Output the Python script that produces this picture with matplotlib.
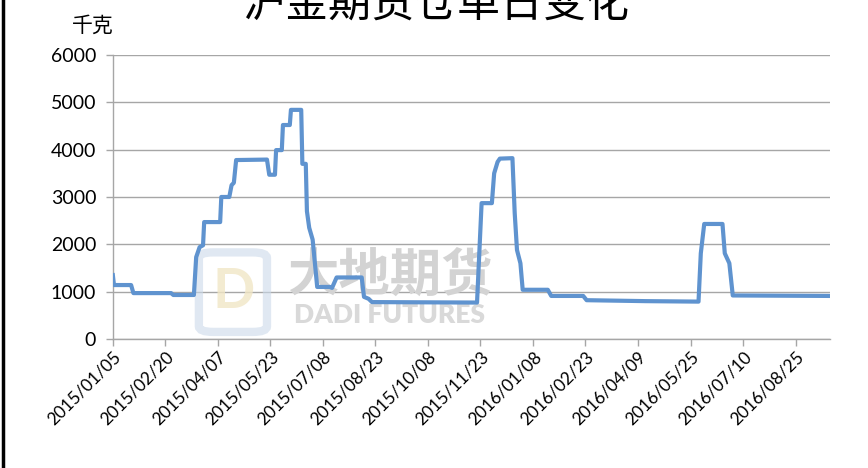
import pandas as pd
import matplotlib.pyplot as plt
import matplotlib.dates as mdates
from matplotlib.patches import FancyBboxPatch

plt.rcParams['font.family'] = ['Lato', 'Noto Sans CJK SC', 'DejaVu Sans']

# warehouse receipt breakpoints (kg)
dates = [
    '2015-01-05', '2015-01-06', '2015-01-21', '2015-01-23', '2015-02-25', '2015-02-27',
    '2015-03-17', '2015-03-19', '2015-03-22', '2015-03-25', '2015-03-26', '2015-04-09',
    '2015-04-10', '2015-04-17', '2015-04-19', '2015-04-21', '2015-04-23', '2015-05-20',
    '2015-05-22', '2015-05-27', '2015-05-28', '2015-06-02', '2015-06-03', '2015-06-09',
    '2015-06-10', '2015-06-19', '2015-06-20', '2015-06-23', '2015-06-24', '2015-06-26',
    '2015-06-29', '2015-07-03', '2015-07-14', '2015-07-16', '2015-07-20', '2015-08-11',
    '2015-08-13', '2015-08-17', '2015-08-20', '2015-11-20', '2015-11-22', '2015-11-24',
    '2015-12-03', '2015-12-05', '2015-12-08', '2015-12-10', '2015-12-21', '2015-12-23',
    '2015-12-25', '2015-12-28', '2015-12-30', '2016-01-21', '2016-01-24', '2016-02-21',
    '2016-02-24', '2016-04-16', '2016-06-01', '2016-06-03', '2016-06-06', '2016-06-22',
    '2016-06-24', '2016-06-28', '2016-07-01', '2016-09-23',
]
kg = [
    1350, 1140, 1140, 970, 970, 930,
    930, 1730, 1940, 1980, 2470, 2470,
    3000, 3000, 3250, 3300, 3780, 3790,
    3470, 3470, 3990, 3990, 4520, 4520,
    4840, 4840, 3700, 3700, 2700, 2350,
    2100, 1100, 1100, 1080, 1300, 1300,
    890, 850, 780, 770, 1820, 2870,
    2870, 3500, 3740, 3810, 3820, 2660,
    1880, 1600, 1040, 1040, 910, 910,
    820, 800, 790, 1810, 2430, 2430,
    1810, 1600, 920, 910,
]
tick_dates = pd.date_range('2015-01-05', '2016-09-23', freq='46D')

x = pd.to_datetime(dates)

fig = plt.figure(figsize=(8.68, 4.68), dpi=100)
ax = fig.add_axes([0.130, 0.2756, 0.826, 0.607])

# watermark
logo = FancyBboxPatch((0.125, 0.03), 0.085, 0.27, boxstyle='round,pad=0.005,rounding_size=0.02',
                      transform=ax.transAxes, fc='none', ec='#CCDAEA', lw=6, alpha=0.6, zorder=1)
ax.add_patch(logo)
ax.text(0.168, 0.165, 'D', transform=ax.transAxes, fontsize=40, color='#F1E6C6',
        ha='center', va='center', fontweight='bold', alpha=0.8, zorder=1)
ax.text(0.386, 0.225, '大地期货', transform=ax.transAxes, fontsize=37, color='#D3D3D3',
        ha='center', va='center', fontweight='heavy', family=['Noto Sans CJK SC'], zorder=1)
ax.text(0.386, 0.085, 'DADI FUTURES', transform=ax.transAxes, fontsize=19, color='#D9D9D9',
        ha='center', va='center', fontweight='heavy', zorder=1)

ax.plot(x, kg, color='#5F93CF', lw=3, solid_joinstyle='round', zorder=3)

ax.set_xlim(pd.Timestamp('2015-01-05'), pd.Timestamp('2016-09-24'))
ax.set_ylim(0, 6000)
ax.set_yticks(range(0, 6001, 1000))
ax.set_xticks(tick_dates)
ax.xaxis.set_major_formatter(mdates.DateFormatter('%Y/%m/%d'))
plt.setp(ax.get_xticklabels(), rotation=45, ha='right', rotation_mode='anchor')

ax.grid(axis='y', color='#A6A6A6', lw=1)
ax.set_axisbelow(True)
for s in ['top', 'right']:
    ax.spines[s].set_visible(False)
for s in ['left', 'bottom']:
    ax.spines[s].set_color('#A6A6A6')
    ax.spines[s].set_linewidth(1)
ax.tick_params(axis='both', colors='#A6A6A6', length=5, width=1, labelcolor='black')
ax.tick_params(axis='y', labelsize=14, pad=7)
ax.tick_params(axis='x', labelsize=12.5, pad=2)

fig.text(0.107, 0.944, '千克', fontsize=15, ha='center', va='center',
         family=['Noto Sans CJK SC'])
fig.text(0.502, 0.988, '沪金期货仓单日变化', fontsize=31, ha='center', va='center',
         family=['Noto Sans CJK SC'])

# left border of the chart area
fig.add_artist(plt.Line2D([0.004, 0.004], [0, 1], color='black', lw=2.5, transform=fig.transFigure))

fig.savefig('out.png', dpi=100)
